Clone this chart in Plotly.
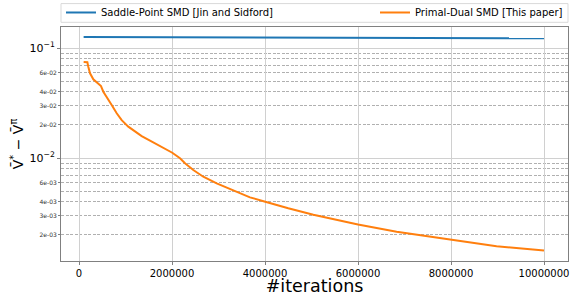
import plotly.graph_objects as go

# ---- data ----
blue_x = [100000, 2000000, 4000000, 6000000, 8000000, 10000000]
blue_y = [0.1262, 0.1255, 0.1248, 0.1241, 0.1234, 0.1227]

orange_x = [100000, 180000, 200000, 237000, 308000, 381000, 473000, 523000, 596000,
            703000, 811000, 918000, 1060000, 1204000, 1348000, 1527000, 1705000,
            1886000, 2006000, 2172000, 2280000, 2458000, 2673000, 2961000, 3318000,
            3677000, 4006000, 4500000, 5040000, 6000000, 6830000, 8000000, 8980000,
            10000000]
orange_y = [0.0745, 0.0742, 0.0676, 0.0589, 0.0519, 0.0484, 0.0451, 0.0401, 0.0361,
            0.0303, 0.0255, 0.0221, 0.0193, 0.0173, 0.0158, 0.0144, 0.0131,
            0.0120, 0.01117, 0.00994, 0.00895, 0.00778, 0.00676, 0.00589, 0.00505,
            0.00439, 0.00401, 0.00349, 0.00305, 0.00249, 0.00214, 0.00182, 0.00158,
            0.00144]

series_names = ["Saddle-Point SMD [Jin and Sidford]", "Primal-Dual SMD [This paper]"]

x_tickvals = [0, 2000000, 4000000, 6000000, 8000000, 10000000]
x_ticktext = ["0", "2000000", "4000000", "6000000", "8000000", "10000000"]

y_major_vals = [0.1, 0.01]
y_major_text = ["10<sup>−1</sup>", "10<sup>−2</sup>"]
y_minor_vals = [0.06, 0.04, 0.03, 0.02, 0.006, 0.004, 0.003, 0.002]
y_minor_text = ["6e-02", "4e-02", "3e-02", "2e-02", "6e-03", "4e-03", "3e-03", "2e-03"]
y_grid_minor = [m * d for d in (0.01, 0.001) for m in range(2, 10)]

x_range = [-387000, 10516000]
y_range_log = [-2.936, -0.809]

# ---- figure ----
fig = go.Figure()
# invisible carrier so the overlaying major-tick axis is drawn
fig.add_trace(go.Scatter(x=blue_x, y=blue_y, mode="lines", yaxis="y2",
                         line=dict(color="rgba(0,0,0,0)", width=0), showlegend=False,
                         hoverinfo="skip"))
fig.add_trace(go.Scatter(x=blue_x, y=blue_y, mode="lines", name=series_names[0],
                         line=dict(color="#1f77b4", width=2), legend="legend"))
fig.add_trace(go.Scatter(x=orange_x, y=orange_y, mode="lines", name=series_names[1],
                         line=dict(color="#ff7f0e", width=2),
                         legend="legend2"))

fig.update_layout(
    width=576, height=296,
    margin=dict(l=61, r=8, t=27, b=35, autoexpand=False),
    plot_bgcolor="white", paper_bgcolor="white",
    font=dict(family="DejaVu Sans", color="black"),
    showlegend=True,
    legend=dict(x=0.0, xanchor="left", y=1.062, yanchor="middle",
                orientation="h", font=dict(size=10), bgcolor="rgba(0,0,0,0)"),
    legend2=dict(x=1.0, xanchor="right", y=1.062, yanchor="middle",
                 orientation="h", font=dict(size=10), bgcolor="rgba(0,0,0,0)"),
    xaxis=dict(range=x_range, tickmode="array", tickvals=x_tickvals, ticktext=x_ticktext,
               tickfont=dict(size=10), showgrid=True, gridcolor="#d0d0d0", gridwidth=1,
               zeroline=False, showline=True, linecolor="#808080", linewidth=1, mirror=True,
               ticks="outside", ticklen=3, tickcolor="#808080",
               title=dict(text="#iterations", font=dict(size=17.5), standoff=5)),
    yaxis=dict(type="log", range=y_range_log, tickmode="array",
               tickvals=y_minor_vals, ticktext=y_minor_text,
               tickfont=dict(size=6, color="#333333"),
               showgrid=False, zeroline=False, showline=True, linecolor="#808080",
               linewidth=1, mirror=True, ticks="outside", ticklen=2, tickcolor="#808080",
               minor=dict(tickmode="array", tickvals=y_grid_minor, showgrid=True,
                          gridcolor="#b0b0b0", griddash="3px,1.5px", gridwidth=0.8)),
    yaxis2=dict(type="log", range=y_range_log, overlaying="y", side="left",
                tickmode="array", tickvals=y_major_vals, ticktext=y_major_text,
                tickfont=dict(size=11), showgrid=True, gridcolor="#d0d0d0", gridwidth=1,
                zeroline=False, ticks="outside", ticklen=3, tickcolor="#808080",
                title=dict(text="V\u0304<sup>*</sup> − V\u0304<sup>π</sup>",
                           font=dict(size=14), standoff=2)),
)

# legend frame spanning the axes width
fig.add_shape(type="rect", xref="paper", yref="paper", x0=0, x1=1, y0=1.02, y1=1.1,
              line=dict(color="#d9d9d9", width=1), fillcolor="rgba(255,255,255,0.8)",
              layer="below")

fig.write_html("out.html", config={"displayModeBar": False},
               post_script="document.body.style.margin='0px';")
